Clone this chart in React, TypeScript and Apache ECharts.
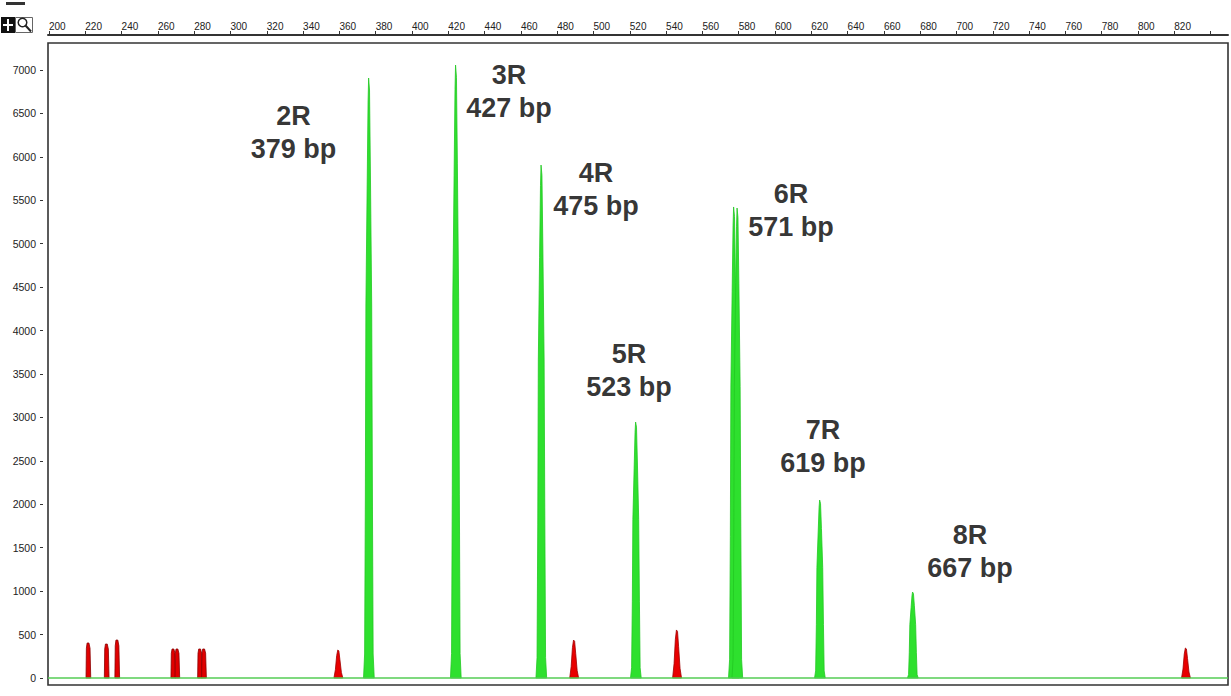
import React, { useEffect, useRef } from "react";
import * as echarts from "echarts";

// Fragment size axis (bp) ticks and labels
const sizeTicks = [200, 220, 240, 260, 280, 300, 320, 340, 360, 380, 400, 420, 440, 460, 480, 500, 520, 540, 560, 580, 600, 620, 640, 660, 680, 700, 720, 740, 760, 780, 800, 820, 840];
const sizeLabels = [200, 220, 240, 260, 280, 300, 320, 340, 360, 380, 400, 420, 440, 460, 480, 500, 520, 540, 560, 580, 600, 620, 640, 660, 680, 700, 720, 740, 760, 780, 800, 820];
// Signal (RFU) ticks
const rfuTicks = [0, 500, 1000, 1500, 2000, 2500, 3000, 3500, 4000, 4500, 5000, 5500, 6000, 6500, 7000];

// Green (sample) peaks: apex position (bp) and height (RFU)
const greenPeakPos = [376.3, 424.2, 471.3, 523.4, 577.4, 579.3, 624.8, 676.0];
const greenPeakHeight = [6908, 7057, 5906, 2947, 5423, 5411, 2049, 990];

// Red (size standard) peaks
const redNarrowPos = [221.7, 231.8, 237.6, 268.5, 270.7, 283.2, 285.4];
const redNarrowHeight = [403, 391, 437, 334, 334, 334, 334];
const redBroadPos = [359.4, 489.3, 546.0, 826.4];
const redBroadHeight = [322, 437, 553, 345];

// Allele annotations
const alleleNames = ["2R", "3R", "4R", "5R", "6R", "7R", "8R"];
const alleleSizes = ["379 bp", "427 bp", "475 bp", "523 bp", "571 bp", "619 bp", "667 bp"];
const alleleLabelX = [334.7, 453.4, 501.4, 519.6, 608.8, 626.4, 707.4];
const alleleLabelY = [6286, 6758, 5630, 3546, 5388, 2671, 1462];

// peak outline profiles: [offset in bp, fraction of height]
const greenProfile: [number, number][] = [
  [-3.0, 0], [-2.4, 0.04], [-2.0, 0.3], [-1.7, 0.62], [-1.0, 0.82], [-0.5, 0.96], [-0.2, 1],
  [0.3, 0.98], [0.8, 0.84], [1.5, 0.62], [1.9, 0.3], [2.3, 0.04], [2.9, 0],
];
const redNarrowProfile: [number, number][] = [
  [-1.3, 0], [-1.1, 0.85], [-0.7, 1], [0.3, 1], [0.9, 0.85], [1.3, 0],
];
const redBroadProfile: [number, number][] = [
  [-2.4, 0], [-1.6, 0.3], [-0.9, 0.8], [-0.3, 1], [0.3, 0.97], [0.9, 0.65], [1.7, 0.2], [2.5, 0],
];

const zip = (a: number[], b: number[]) => a.map((v, i) => [v, b[i]]);

function makeRender(profile: [number, number][], fill: string, stroke: string) {
  return (params: any, api: any) => {
    const p = api.value(0);
    const h = api.value(1);
    const pts = profile.map(([dx, f]) => api.coord([p + dx, h * f]));
    return {
      type: "polygon",
      shape: { points: pts },
      style: { fill, stroke, lineWidth: 0.8 },
    };
  };
}

export default function App() {
  const ref = useRef<HTMLDivElement>(null);

  useEffect(() => {
    if (!ref.current) return;
    const chart = echarts.init(ref.current, undefined, { renderer: "svg" });
    const axisFont = "Liberation Sans, Arial, sans-serif";
    chart.setOption({
      animation: false,
      backgroundColor: "#ffffff",
      grid: {
        left: 48,
        right: 3,
        top: 43,
        bottom: 11,
        show: true,
        borderColor: "#333",
        borderWidth: 1.6,
        backgroundColor: "#ffffff",
      },
      xAxis: {
        type: "value",
        position: "top",
        min: 199.45,
        max: 849.6,
        offset: 8,
        axisLine: { show: true, onZero: false, lineStyle: { color: "#333", width: 2 } },
        axisTick: { show: true, length: 4, customValues: sizeTicks, lineStyle: { color: "#333", width: 1 } },
        axisLabel: {
          customValues: sizeLabels,
          formatter: (v: number) => String(v),
          fontSize: 10,
          color: "#222",
          margin: 4,
          align: "left",
          fontFamily: axisFont,
        },
        splitLine: { show: false },
      },
      yAxis: {
        type: "value",
        min: -80.6,
        max: 7311,
        offset: 5,
        axisLine: { show: false, onZero: false },
        axisTick: { show: true, length: 3, customValues: rfuTicks, lineStyle: { color: "#333", width: 1 } },
        axisLabel: {
          customValues: rfuTicks,
          formatter: (v: number) => String(v),
          fontSize: 10.5,
          color: "#222",
          margin: 7,
          fontFamily: axisFont,
          padding: [0, 0, 6, 0],
        },
        splitLine: { show: false },
      },
      graphic: [
        { type: "rect", shape: { x: 6, y: 2, width: 19, height: 3 }, style: { fill: "#333" } },
        { type: "rect", shape: { x: 1, y: 17, width: 14, height: 16 }, style: { fill: "#111" } },
        { type: "line", shape: { x1: 3, y1: 25, x2: 13, y2: 25 }, style: { stroke: "#fff", lineWidth: 2 } },
        { type: "line", shape: { x1: 8, y1: 19, x2: 8, y2: 31 }, style: { stroke: "#fff", lineWidth: 2 } },
        { type: "rect", shape: { x: 15.5, y: 17.5, width: 17, height: 15 }, style: { fill: "#fff", stroke: "#666", lineWidth: 1 } },
        { type: "circle", shape: { cx: 22.5, cy: 22.5, r: 4.3 }, style: { fill: "none", stroke: "#222", lineWidth: 1.5 } },
        { type: "line", shape: { x1: 25.5, y1: 25.5, x2: 31, y2: 31.5 }, style: { stroke: "#222", lineWidth: 2 } },
      ],
      series: [
        {
          type: "custom",
          name: "red-narrow",
          clip: true,
          renderItem: makeRender(redNarrowProfile, "#e00000", "#8a0000"),
          encode: { x: 0, y: 1 },
          data: zip(redNarrowPos, redNarrowHeight),
          z: 2,
        },
        {
          type: "custom",
          name: "red-broad",
          clip: true,
          renderItem: makeRender(redBroadProfile, "#e80000", "#a00000"),
          encode: { x: 0, y: 1 },
          data: zip(redBroadPos, redBroadHeight),
          z: 2,
        },
        {
          type: "custom",
          name: "green",
          clip: true,
          renderItem: makeRender(greenProfile, "#2ee02e", "#22c822"),
          encode: { x: 0, y: 1 },
          data: zip(greenPeakPos, greenPeakHeight),
          z: 3,
          markLine: {
            silent: true,
            symbol: "none",
            label: { show: false },
            lineStyle: { color: "#55cc55", width: 1.5, type: "solid" },
            data: [{ yAxis: 0 }],
          },
        },
        {
          type: "scatter",
          name: "alleles",
          symbolSize: 0,
          itemStyle: { color: "transparent" },
          data: alleleLabelX.map((x, i) => [x, alleleLabelY[i], alleleNames[i] + "\n" + alleleSizes[i]]),
          label: {
            show: true,
            position: "inside",
            formatter: (p: any) => p.value[2],
            fontSize: 27,
            fontWeight: "bold",
            color: "#000",
            textBorderWidth: 0,
            lineHeight: 33,
            align: "center",
            fontFamily: "Liberation Sans, Arial, sans-serif",
          },
          z: 5,
        },
      ],
    });
    return () => chart.dispose();
  }, []);

  return (
    <div
      ref={ref}
      style={{ position: "fixed", left: 0, top: 0, width: 1231, height: 696, background: "#fff" }}
    />
  );
}
